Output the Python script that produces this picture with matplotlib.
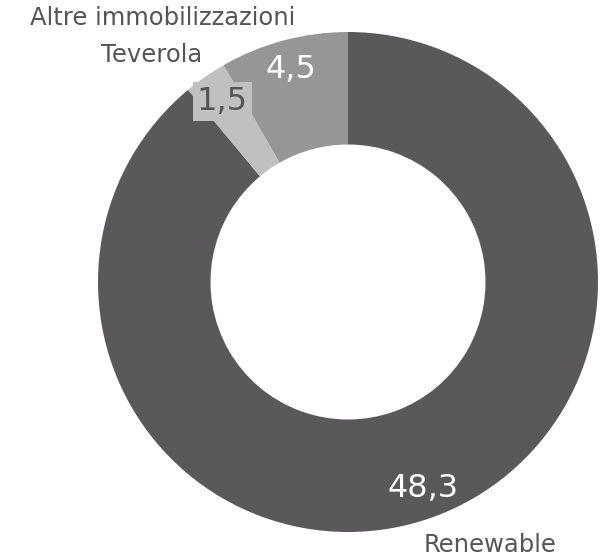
import numpy as np
import matplotlib
matplotlib.use('Agg')
import matplotlib.pyplot as plt

plt.rcParams['font.family'] = 'DejaVu Sans'

categories = ['Renewable', 'Teverola', 'Altre immobilizzazioni']
values = [48.3, 1.5, 4.5]
value_labels = ['48,3', '1,5', '4,5']
colors = ['#5a585b', '#c0c0c0', '#969696']
text_color = '#555555'

W, H = 608, 559
fig = plt.figure(figsize=(W / 100, H / 100), dpi=100)
ax = fig.add_axes([0, 0, 1, 1])

cx, cy = 348, H - 282
R = 250
wedges, _ = ax.pie(values, colors=colors, startangle=90, counterclock=False,
                   radius=R, center=(cx, cy),
                   wedgeprops=dict(width=R * 0.45, linewidth=0))

# value labels along the middle of each wedge
for w, lab, col in zip(wedges, value_labels, colors):
    mid = np.deg2rad((w.theta1 + w.theta2) / 2)
    x = cx + 0.88 * R * np.cos(mid)
    y = cy + 0.88 * R * np.sin(mid)
    if lab == '1,5':
        ax.text(x, y, lab, ha='center', va='center', fontsize=23, color=text_color,
                bbox=dict(boxstyle='square,pad=0.12', fc=col, ec='none'))
    else:
        ax.text(x, y, lab, ha='center', va='center', fontsize=23, color='white')

# category labels
ax.text(163, H - 18, categories[2], ha='center', va='center', fontsize=17.5, color=text_color)
ax.text(152, H - 55, categories[1], ha='center', va='center', fontsize=17.5, color=text_color)
ax.text(490, H - 545, categories[0], ha='center', va='center', fontsize=17.5, color=text_color)

ax.set_xlim(0, W)
ax.set_ylim(0, H)
ax.set_aspect('equal')
ax.axis('off')

fig.savefig('out.png', dpi=100)
